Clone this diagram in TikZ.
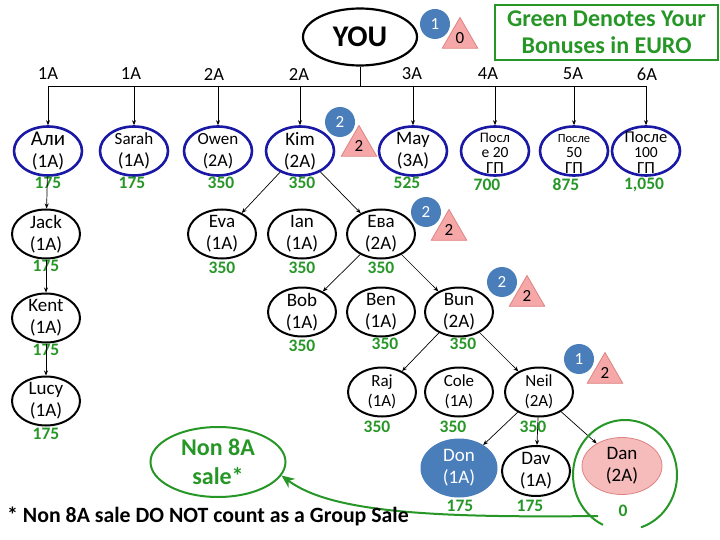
\documentclass[tikz,border=0pt]{standalone}
\usepackage{fontspec}
\setmainfont{Carlito}
\usetikzlibrary{shapes.geometric,arrows.meta}

\definecolor{ovalblue}{RGB}{25,25,165}
\definecolor{bonusgreen}{RGB}{38,150,38}
\definecolor{badgeblue}{RGB}{74,126,187}
\definecolor{tripink}{RGB}{246,168,168}
\definecolor{triedge}{RGB}{222,130,130}
\definecolor{danpink}{RGB}{246,188,188}

\tikzset{
	oval/.style={ellipse, draw=black, line width=2pt, minimum width=68pt, minimum height=49pt,
		inner sep=0pt, inner ysep=-6pt, align=center, font=\fontsize{19}{22}\selectfont},
	topoval/.style={oval, draw=ovalblue, line width=2.6pt},
	tight/.style={inner ysep=-16pt, font=\fontsize{15}{15.5}\selectfont},
	bonus/.style={text=bonusgreen, font=\bfseries\fontsize{17.5}{17}\selectfont, inner sep=0pt},
	level/.style={font=\fontsize{18.5}{18}\selectfont, inner sep=0pt},
	badge/.style={circle, fill=badgeblue, text=white, minimum size=30pt, inner sep=0pt,
		font=\fontsize{17}{17}\selectfont},
	tri/.style={regular polygon, regular polygon sides=3, fill=tripink, draw=triedge,
		line width=0.8pt, minimum size=41pt, inner sep=0pt, font=\fontsize{17}{17}\selectfont},
	conn/.style={-{Stealth[length=5pt,width=4pt]}, line width=0.7pt}
}

\begin{document}
\begin{tikzpicture}[x=1pt,y=-1pt]
	\useasboundingbox (0,0) rectangle (720,540);
	
	% ---- Top: you and the legend ----
	\node[ellipse, draw, line width=2.2pt, minimum width=114pt, minimum height=57pt, inner sep=0pt,
		font=\bfseries\fontsize{30}{30}\selectfont] (you) at (360,37) {YOU};
	\node[badge] (youbadge) at (435,24) {1};
	\node[tri] (youtri) at (460,38) {0};
	\node[draw=bonusgreen, line width=2.4pt, minimum width=223pt, minimum height=55pt, inner sep=0pt,
		text=bonusgreen, align=center, font=\bfseries\fontsize{24}{27}\selectfont] (legend) at (606.5,32.5)
		{Green Denotes Your\\Bonuses in EURO};
	\coordinate (bus) at (0,86);
	
	% ---- First line (x, name, text, bonus, bonus x) ----
	\foreach \i/\name/\txt/\val/\vx in {
		48/ali/{\fontsize{21}{22}\selectfont Али\\(1A)}/175/48,
		134/sarah/{\fontsize{17}{22}\selectfont Sarah\\\fontsize{19}{22}\selectfont(1A)}/175/132,
		218/owen/{\fontsize{17}{22}\selectfont Owen\\\fontsize{18}{22}\selectfont(2A)}/350/221,
		300/kim/{Kim\\(2A)}/350/302,
		413/may/{May\\(3A)}/525/407
	}
	{
		\node[topoval] (\name) at (\i,151) {\txt};
		\node[bonus] (\name val) at (\vx,183) {\val};
	}
	\foreach \i/\name/\txt/\val/\vx in {
		495/after20/{\fontsize{14.5}{16}\selectfont\rule{0pt}{14pt}Посл\\\fontsize{15.5}{16}\selectfont е 20\\\fontsize{17}{16}\selectfont ГП}/700/487,
		574/after50/{\fontsize{12.5}{16}\selectfont\rule{0pt}{14pt}После\\\fontsize{15.5}{16}\selectfont 50\\\fontsize{17}{16}\selectfont ГП}/875/566,
		646/after100/{\fontsize{16.5}{16}\selectfont\rule{0pt}{14pt}После\\\fontsize{15.5}{16}\selectfont 100\\\fontsize{17}{16}\selectfont ГП}/{1,050}/644
	}
	{
		\node[topoval, tight] (\name) at (\i,151) {\txt};
		\node[bonus] (\name val) at (\vx,185) {\val};
	}
	\foreach \lx/\name/\lab in {48/l1/1A, 131/l2/1A, 214/l3/2A, 299/l4/2A, 412/l5/3A, 488/l6/4A, 573/l7/5A, 647/l8/6A}
	\node[level] (\name) at (\lx,74) {\lab};
	
	% ---- Bus line and arrows down ----
	\draw[line width=0.7pt] (you.south) -- (you.south |- bus);
	\draw[line width=0.7pt] (ali.north |- bus) -- (after100.north |- bus);
	\foreach \name in {ali,sarah,owen,kim,may,after20,after50,after100}
	\draw[conn] (\name.north |- bus) -- (\name.north);
	
	% ---- Badges and triangles ----
	\node[badge] (kimbadge) at (340,122) {2};
	\node[tri] (kimtri) at (359,146) {2};
	\node[badge] (evabadge) at (426,212) {2};
	\node[tri] (evatri) at (449,230) {2};
	\node[badge] (bunbadge) at (502,282) {2};
	\node[tri] (buntri) at (527,296) {2};
	\node[badge] (neilbadge) at (579,359) {1};
	\node[tri] (neiltri) at (605,373) {2};
	
	% ---- Left leg ----
	\node[oval] (jack) at (46,234) {Jack\\(1A)};
	\node[oval] (kent) at (46,318) {Kent\\(1A)};
	\node[oval] (lucy) at (46,401) {Lucy\\(1A)};
	\node[bonus] (jackval) at (46,266) {175};
	\node[bonus] (kentval) at (46,350) {175};
	\node[bonus] (lucyval) at (46,434) {175};
	\draw[conn] (ali) -- (jack);
	\draw[conn] (jack) -- (kent);
	\draw[conn] (kent) -- (lucy);
	
	% ---- Kim's group ----
	\node[oval] (eva) at (222,234) {Eva\\(1A)};
	\node[oval] (ian) at (302,234) {Ian\\(1A)};
	\node[oval] (evacyr) at (381,234) {Ева\\(2A)};
	\node[bonus] (evaval) at (222,268) {350};
	\node[bonus] (ianval) at (302,268) {350};
	\node[bonus] (evacyrval) at (381,268) {350};
	\draw[conn] (kim) -- (eva);
	\draw[conn] (kim) -- (evacyr);
	
	\node[oval] (bob) at (302,312) {Bob\\(1A)};
	\node[oval] (ben) at (381,312) {Ben\\(1A)};
	\node[oval] (bun) at (459,312) {Bun\\(2A)};
	\node[bonus] (bobval) at (302,346) {350};
	\node[bonus] (benval) at (385,344) {350};
	\node[bonus] (bunval) at (463,344) {350};
	\draw[conn] (evacyr) -- (bob);
	\draw[conn] (evacyr) -- (bun);
	
	\node[oval, font=\fontsize{17}{20}\selectfont] (raj) at (382,392) {Raj\\(1A)};
	\node[oval, font=\fontsize{17}{20}\selectfont] (cole) at (459,392) {Cole\\(1A)};
	\node[oval, font=\fontsize{17}{20}\selectfont] (neil) at (539,392) {Neil\\(2A)};
	\node[bonus] (rajval) at (377,427) {350};
	\node[bonus] (coleval) at (453,427) {350};
	\node[bonus] (neilval) at (533,427) {350};
	\draw[conn] (bun) -- (raj);
	\draw[conn] (bun) -- (neil);
	
	\node[oval, draw=badgeblue, fill=badgeblue, text=white, minimum width=75pt, minimum height=57pt] (don) at (459,468) {Don\\(1A)};
	\node[oval, minimum height=50pt] (dav) at (536,471) {Dav\\(1A)};
	\node[oval, draw=triedge, line width=0.8pt, fill=danpink, minimum width=80pt, minimum height=57pt] (dan) at (622,466) {Dan\\(2A)};
	\node[bonus] (donval) at (460,506) {175};
	\node[bonus] (davval) at (530,506) {175};
	\node[bonus] (danval) at (623,511) {0};
	\draw[conn] (neil) -- (don);
	\draw[conn] (neil) -- (dav);
	\draw[conn] (neil) -- (dan);
	
	% ---- Non 8A sale loop ----
	\node[ellipse, draw=bonusgreen, line width=2pt, minimum width=135pt, minimum height=70pt, inner sep=0pt,
		text=bonusgreen, align=center, font=\bfseries\fontsize{24}{29}\selectfont] (non8a) at (218,462) {Non 8A\\sale*};
	\draw[bonusgreen, line width=2pt] plot[smooth, domain=72:-245, samples=60] ({625+52*cos(\x)}, {475+55*sin(\x)});
	\coordinate (loopend) at (598,516);
	\draw[bonusgreen, line width=2pt, -{Stealth[length=13pt,width=11pt]}] (loopend) .. controls (430,518) and (330,512) .. (non8a.-12);
	
	\node[anchor=west, inner sep=0pt, font=\bfseries\fontsize{21.8}{22}\selectfont] (note) at (7,516) {* Non 8A sale DO NOT count as a Group Sale};
	
\end{tikzpicture}
\end{document}
